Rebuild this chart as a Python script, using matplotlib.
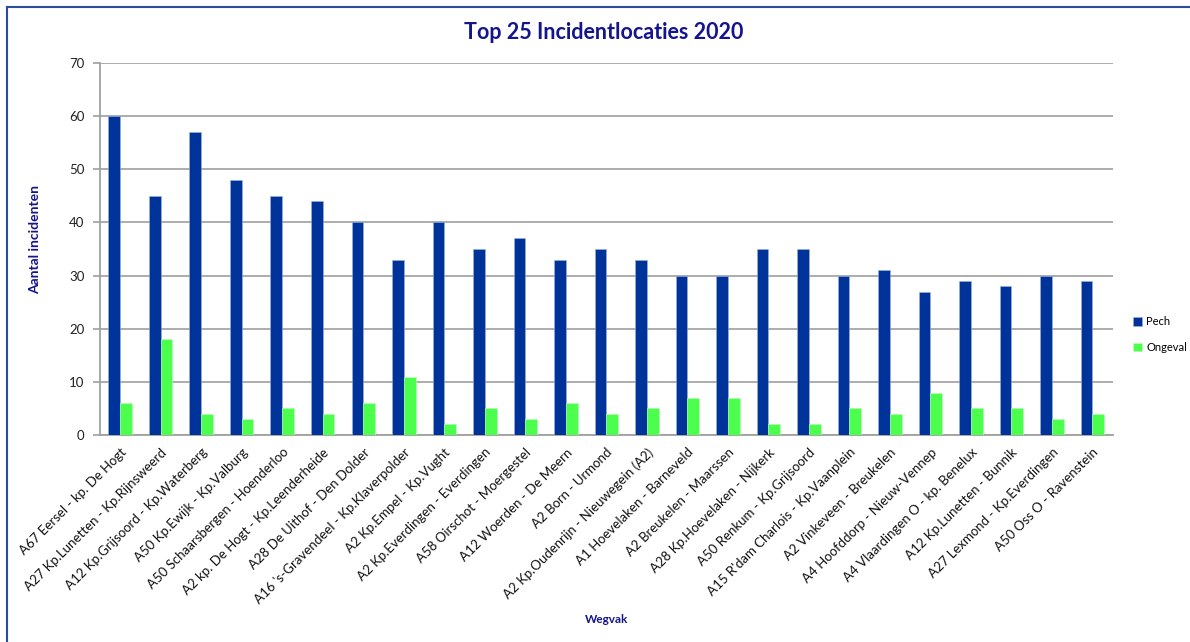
import numpy as np
import matplotlib.pyplot as plt
from matplotlib.lines import Line2D

# Wegvakken met de meeste incidenten in 2020
wegvakken = [
    "A67 Eersel - kp. De Hogt",
    "A27 Kp.Lunetten - Kp.Rijnsweerd",
    "A12 Kp.Grijsoord - Kp.Waterberg",
    "A50 Kp.Ewijk - Kp.Valburg",
    "A50 Schaarsbergen - Hoenderloo",
    "A2 kp. De Hogt - Kp.Leenderheide",
    "A28 De Uithof - Den Dolder",
    "A16 's-Gravendeel - Kp.Klaverpolder",
    "A2 Kp.Empel - Kp.Vught",
    "A2 Kp.Everdingen - Everdingen",
    "A58 Oirschot - Moergestel",
    "A12 Woerden - De Meern",
    "A2 Born - Urmond",
    "A2 Kp.Oudenrijn - Nieuwegein (A2)",
    "A1 Hoevelaken - Barneveld",
    "A2 Breukelen - Maarssen",
    "A28 Kp.Hoevelaken - Nijkerk",
    "A50 Renkum - Kp.Grijsoord",
    "A15 R'dam Charlois - Kp.Vaanplein",
    "A2 Vinkeveen - Breukelen",
    "A4 Hoofddorp - Nieuw-Vennep",
    "A4 Vlaardingen O - kp. Benelux",
    "A12 Kp.Lunetten - Bunnik",
    "A27 Lexmond - Kp.Everdingen",
    "A50 Oss O - Ravenstein",
]
pech = [60, 45, 57, 48, 45, 44, 40, 33, 40, 35, 37, 33, 35,
        33, 30, 30, 35, 35, 30, 31, 27, 29, 28, 30, 29]
ongeval = [6, 18, 4, 3, 5, 4, 6, 11, 2, 5, 3, 6, 4,
           5, 7, 7, 2, 2, 5, 4, 8, 5, 5, 3, 4]

plt.rcParams['font.family'] = ['Lato', 'DejaVu Sans']

navy = '#14148c'
blauw = '#003399'
groen = '#4cff4c'

fig = plt.figure(figsize=(11.9, 6.42), dpi=100)
ax = fig.add_axes([0.084, 0.3224, 0.851, 0.5795])

x = np.arange(len(wegvakken))
w = 0.29
ax.bar(x - w / 2, pech, width=w, color=blauw, edgecolor='#9fb3e0',
       linewidth=0.4, label='Pech', zorder=3)
ax.bar(x + w / 2, ongeval, width=w, color=groen, edgecolor='#b8ffb8',
       linewidth=0.4, label='Ongeval', zorder=3)

ax.set_xlim(-0.5, len(wegvakken) - 0.5)
ax.set_ylim(0, 70)
ax.set_yticks(range(0, 71, 10))
ax.yaxis.grid(True, color='#a6a6a6', linewidth=1.3, zorder=0)
ax.set_axisbelow(True)

for side in ['top', 'right']:
    ax.spines[side].set_visible(False)
for side in ['left', 'bottom']:
    ax.spines[side].set_color('#a0a0a0')
    ax.spines[side].set_linewidth(1.3)

ax.tick_params(axis='y', length=5, width=1.2, color='#a0a0a0',
               labelsize=9.5, labelcolor='#222222', pad=6)
ax.set_xticks(x)
ax.set_xticklabels(wegvakken, rotation=45, ha='right',
                   rotation_mode='anchor', fontsize=9.5, color='#111111')
ax.tick_params(axis='x', length=0, pad=8)

ax.set_ylabel('Aantal incidenten', fontsize=10, fontweight='bold',
              color=navy)
ax.yaxis.set_label_coords(-0.058, 0.525)
fig.text(0.51, 0.035, 'Wegvak', ha='center', va='center', fontsize=8.5,
         fontweight='bold', color=navy)
fig.text(0.507, 0.95, 'Top 25 Incidentlocaties 2020', ha='center',
         va='center', fontsize=15.5, fontweight='bold', color=navy)

ax.legend(loc='center left', bbox_to_anchor=(1.01, 0.27), frameon=False,
          fontsize=8, handlelength=0.8, handleheight=0.8,
          handletextpad=0.4, labelspacing=1.3)

# blauwe kader langs de boven- en linkerrand
fig.add_artist(Line2D([0.006, 1.0], [0.989, 0.989], color='#2a4d9c',
                      linewidth=1.5, transform=fig.transFigure))
fig.add_artist(Line2D([0.006, 0.006], [0.0, 0.989], color='#2a4d9c',
                      linewidth=1.5, transform=fig.transFigure))

fig.savefig('out.png', dpi=100)
